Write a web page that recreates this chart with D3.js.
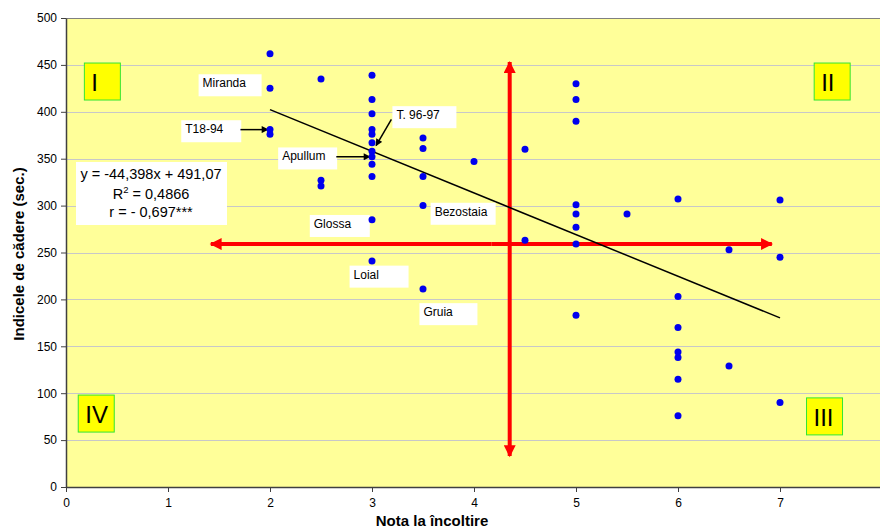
<!DOCTYPE html>
<html>
<head>
<meta charset="utf-8">
<script src="https://cdn.jsdelivr.net/npm/d3@7"></script>
<style>
  html, body { margin: 0; padding: 0; background: #fff; }
  svg { display: block; font-family: "Liberation Sans", Arial, sans-serif; }
</style>
</head>
<body>
<svg id="chart" width="880" height="531"></svg>
<script>
// ---- data ----
const xTicks = [0, 1, 2, 3, 4, 5, 6, 7];
const yTicks = [0, 50, 100, 150, 200, 250, 300, 350, 400, 450, 500];
const noteX = [
  2, 2, 2, 2,
  2.5, 2.5, 2.5,
  3, 3, 3, 3, 3, 3, 3, 3, 3, 3, 3, 3,
  3.5, 3.5, 3.5, 3.5, 3.5,
  4,
  4.5, 4.5,
  5, 5, 5, 5, 5, 5, 5, 5,
  5.5,
  6, 6, 6, 6, 6, 6, 6,
  6.5, 6.5,
  7, 7, 7
];
const fallY = [
  462, 425, 381, 376,
  435, 327, 321,
  439, 413, 398, 381, 376, 367, 358, 352, 344, 331, 285, 241,
  372, 361, 331, 300, 211,
  347,
  360, 263,
  430, 413, 390, 301, 291, 277, 259, 183,
  291,
  307, 203, 170, 144, 138, 115, 76,
  253, 129,
  306, 245, 90
];
const trendSlope = -44.398, trendIntercept = 491.07, trendRange = [2, 7];
const eqLines = ["y = -44,398x + 491,07", "R2 = 0,4866", "r = - 0,697***"];
const quadrants = [
  { name: "I",   x: 0.18, y: 452 },
  { name: "II",  x: 7.335, y: 452 },
  { name: "III", x: 7.26, y: 95 },
  { name: "IV",  x: 0.12, y: 98 }
];
const varieties = [
  { name: "Miranda",   x: 1.3,  y: 440, w: 63 },
  { name: "T18-94",    x: 1.13, y: 391, w: 60 },
  { name: "Apullum",   x: 2.08, y: 362, w: 59 },
  { name: "Glossa",    x: 2.39, y: 290, w: 60 },
  { name: "T. 96-97",  x: 3.2,  y: 406, w: 64 },
  { name: "Bezostaia", x: 3.575,y: 303, w: 65 },
  { name: "Loial",     x: 2.78, y: 236, w: 59 },
  { name: "Gruia",     x: 3.465,y: 196, w: 58 }
];
const pointerArrows = [
  { from: [1.71, 381], to: [1.98, 381] },
  { from: [2.65, 352], to: [2.98, 352] },
  { from: [3.19, 392], to: [3.04, 364] }
];
const crossH = { y: 259, x1: 1.42, x2: 6.92 };
const crossV = { x: 4.35, y1: 33, y2: 453 };

// ---- layout ----
const svg = d3.select("#chart");
const mLeft = 66, mTop = 18, mBottom = 487, mRight = 882;
const x = d3.scaleLinear().domain([0, 8]).range([mLeft, mRight]);
const y = d3.scaleLinear().domain([0, 500]).range([mBottom, mTop]);

const defs = svg.append("defs");
defs.append("marker").attr("id", "redHead").attr("viewBox", "0 0 10 10")
  .attr("refX", 9).attr("refY", 5).attr("markerWidth", 14).attr("markerHeight", 12)
  .attr("markerUnits", "userSpaceOnUse").attr("orient", "auto")
  .append("path").attr("d", "M0,0 L10,5 L0,10 Z").attr("fill", "#FF0000");
defs.append("marker").attr("id", "blackHead").attr("viewBox", "0 0 10 10")
  .attr("refX", 9).attr("refY", 5).attr("markerWidth", 9).attr("markerHeight", 7)
  .attr("markerUnits", "userSpaceOnUse").attr("orient", "auto")
  .append("path").attr("d", "M0,0 L10,5 L0,10 Z").attr("fill", "#000");

// plot background
svg.append("rect").attr("x", mLeft).attr("y", mTop)
  .attr("width", mRight - mLeft).attr("height", mBottom - mTop)
  .attr("fill", "#FFFF99");

// gridlines
svg.append("g").selectAll("line").data(yTicks.filter(d => d > 0)).join("line")
  .attr("x1", mLeft).attr("x2", mRight)
  .attr("y1", d => Math.round(y(d)) + 0.5).attr("y2", d => Math.round(y(d)) + 0.5)
  .attr("stroke", d => d === 500 ? "#808080" : "#C8C8C8").attr("stroke-width", 1);

// axes
const yAxis = svg.append("g").attr("transform", `translate(${mLeft},0)`)
  .call(d3.axisLeft(y).tickValues(yTicks).tickSize(5).tickPadding(4).tickSizeOuter(0));
const xAxis = svg.append("g").attr("transform", `translate(0,${mBottom})`)
  .call(d3.axisBottom(x).tickValues(xTicks).tickSize(5).tickPadding(6).tickSizeOuter(0));
[yAxis, xAxis].forEach(a => {
  a.select(".domain").attr("stroke", "#404040").attr("stroke-width", 1.5);
  a.selectAll(".tick line").attr("stroke", "#404040");
  a.selectAll(".tick text").attr("font-size", 12).attr("fill", "#000")
    .attr("font-family", "'Liberation Sans', Arial, sans-serif");
});

// axis titles
svg.append("text").attr("x", 432).attr("y", 526).attr("text-anchor", "middle")
  .attr("font-size", 15).attr("font-weight", "bold").text("Nota la încoltire");
svg.append("text").attr("transform", "translate(24,254) rotate(-90)")
  .attr("text-anchor", "middle").attr("font-size", 15).attr("font-weight", "bold")
  .text("Indicele de cădere (sec.)");

// red cross arrows (each drawn as two half-arrows from the centre)
const redG = svg.append("g");
const hMid = (crossH.x1 + crossH.x2) / 2, vMid = (crossV.y1 + crossV.y2) / 2;
[crossH.x1, crossH.x2].forEach(b => {
  redG.append("line").attr("x1", x(hMid)).attr("x2", x(b))
    .attr("y1", y(crossH.y)).attr("y2", y(crossH.y))
    .attr("stroke", "#FF0000").attr("stroke-width", 4).attr("marker-end", "url(#redHead)");
});
[crossV.y1, crossV.y2].forEach(b => {
  redG.append("line").attr("x1", x(crossV.x)).attr("x2", x(crossV.x))
    .attr("y1", y(vMid)).attr("y2", y(b))
    .attr("stroke", "#FF0000").attr("stroke-width", 4).attr("marker-end", "url(#redHead)");
});

// trend line
svg.append("line")
  .attr("x1", x(trendRange[0])).attr("y1", y(trendSlope * trendRange[0] + trendIntercept))
  .attr("x2", x(trendRange[1])).attr("y2", y(trendSlope * trendRange[1] + trendIntercept))
  .attr("stroke", "#000").attr("stroke-width", 1.5);

// equation box
const eqG = svg.append("g");
eqG.append("rect").attr("x", 76).attr("y", 162).attr("width", 151).attr("height", 63).attr("fill", "#fff");
const eqCx = 151;
eqG.append("text").attr("x", eqCx).attr("y", 178.5).attr("text-anchor", "middle").attr("font-size", 14.5).text(eqLines[0]);
const r2 = eqG.append("text").attr("x", eqCx).attr("y", 198.5).attr("text-anchor", "middle").attr("font-size", 14.5);
r2.append("tspan").text("R");
r2.append("tspan").attr("dy", -6).attr("font-size", 9.5).text("2");
r2.append("tspan").attr("dy", 6).text(" = 0,4866");
eqG.append("text").attr("x", eqCx).attr("y", 217).attr("text-anchor", "middle").attr("font-size", 14.5).text(eqLines[2]);

// variety labels
const vg = svg.append("g").selectAll("g").data(varieties).join("g")
  .attr("transform", d => `translate(${x(d.x)},${y(d.y)})`);
vg.append("rect").attr("width", d => d.w).attr("height", 22).attr("fill", "#fff");
vg.append("text").attr("x", 4).attr("y", 13).attr("font-size", 12).text(d => d.name);

// pointer arrows
svg.append("g").selectAll("line").data(pointerArrows).join("line")
  .attr("x1", d => x(d.from[0])).attr("y1", d => y(d.from[1]))
  .attr("x2", d => x(d.to[0])).attr("y2", d => y(d.to[1]))
  .attr("stroke", "#000").attr("stroke-width", 1.5).attr("marker-end", "url(#blackHead)");

// points
svg.append("g").selectAll("circle").data(noteX.map((v, i) => [v, fallY[i]])).join("circle")
  .attr("cx", d => x(d[0])).attr("cy", d => y(d[1])).attr("r", 3.5)
  .attr("fill", "#0000EE");

// quadrant boxes
const qg = svg.append("g").selectAll("g").data(quadrants).join("g")
  .attr("transform", d => `translate(${x(d.x)},${y(d.y)})`);
qg.append("rect").attr("width", 36).attr("height", 37).attr("fill", "#FFFF00")
  .attr("stroke", "#33E633").attr("stroke-width", 1);
qg.append("text").attr("x", 7).attr("y", 28).attr("font-size", 24).attr("fill", "#000")
  .text(d => d.name);
</script>
</body>
</html>
